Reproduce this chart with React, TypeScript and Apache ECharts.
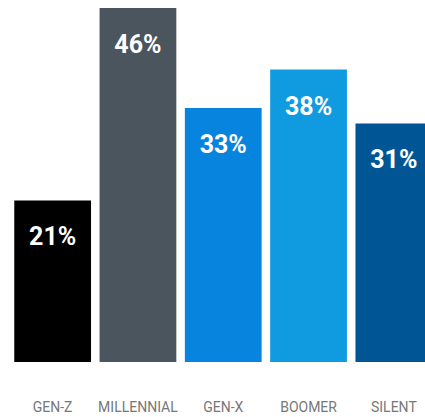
import React, { useEffect, useRef } from "react";
import * as echarts from "echarts";

const categories = ["GEN-Z", "MILLENNIAL", "GEN-X", "BOOMER", "SILENT"];
const values = [21, 46, 33, 38, 31];
const colors = ["#000000", "#4a555e", "#0784dd", "#109be0", "#005695"];

export default function App() {
  const ref = useRef<HTMLDivElement>(null);
  useEffect(() => {
    if (!ref.current) return;
    const chart = echarts.init(ref.current, null, { renderer: "svg" });
    chart.setOption({
      animation: false,
      grid: { left: 10, top: 8, width: 426.5, height: 354, containLabel: false },
      xAxis: {
        type: "category",
        data: categories,
        axisLine: { show: false },
        axisTick: { show: false },
        axisLabel: {
          interval: 0,
          color: "#777777",
          fontSize: 14,
          fontFamily: "Roboto",
          margin: 38,
        },
      },
      yAxis: {
        type: "value",
        min: 0,
        max: 46,
        show: false,
        splitLine: { show: false },
      },
      series: [
        {
          type: "bar",
          barCategoryGap: "10%",
          data: values.map((v, i) => ({ value: v, itemStyle: { color: colors[i] } })),
          label: {
            show: true,
            position: "insideTop",
            distance: 24,
            color: "#ffffff",
            fontSize: 25,
            fontWeight: "bold",
            fontFamily: "Roboto",
            formatter: "{c}%",
          },
        },
      ],
    });
    return () => chart.dispose();
  }, []);
  return (
    <div
      style={{ position: "fixed", left: 0, top: 0, width: 425, height: 417, overflow: "hidden", background: "#ffffff" }}
    >
      <div ref={ref} style={{ width: 445, height: 417 }} />
    </div>
  );
}
